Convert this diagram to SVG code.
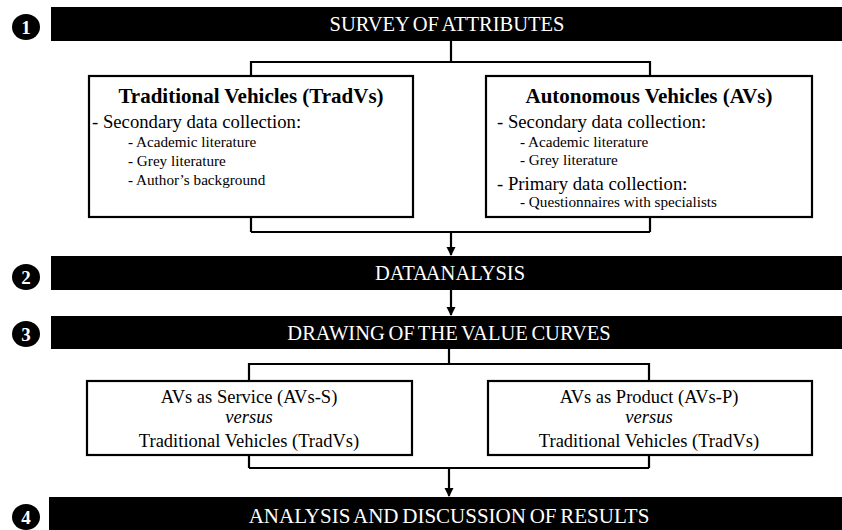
<svg xmlns="http://www.w3.org/2000/svg" width="842" height="530" viewBox="0 0 842 530">
<defs>
<marker id="arr" markerWidth="9" markerHeight="10" refX="8" refY="5" orient="auto" markerUnits="userSpaceOnUse">
<path d="M0,0.5 L9,5 L0,9.5 Z" fill="#000"/>
</marker>
<style>
.bar{fill:#000}
.bt{font-family:"Liberation Serif","Times New Roman",serif;font-size:20.5px;fill:#fff;text-anchor:middle;word-spacing:-1.5px}
.num{fill:#000}
.nt{font-family:"Liberation Serif","Times New Roman",serif;font-size:19px;font-weight:bold;fill:#fff;text-anchor:middle}
.box{fill:#fff;stroke:#000;stroke-width:2.2}
.ttl{font-family:"Liberation Serif","Times New Roman",serif;font-size:21px;font-weight:bold;fill:#000;text-anchor:middle}
.l1{font-family:"Liberation Serif","Times New Roman",serif;font-size:18.7px;fill:#000}
.l2{font-family:"Liberation Serif","Times New Roman",serif;font-size:15.2px;fill:#000}
.c{font-family:"Liberation Serif","Times New Roman",serif;font-size:18.5px;fill:#000;text-anchor:middle}
.con{fill:none;stroke:#000;stroke-width:2.2}
</style>
</defs>
<rect width="842" height="530" fill="#fff"/>

<g id="connectors">
<path class="con" d="M451,41 V62 M251,62 H650 M251,61 V76 M650,61 V76"/>
<path class="con" d="M251,217 V232 M650,217 V232 M251,232 H650"/>
<path class="con" d="M451,232 V255" marker-end="url(#arr)"/>
<path class="con" d="M451,290 V315" marker-end="url(#arr)"/>
<path class="con" d="M449,349 V364 M249,364 H649 M249,363 V381 M649,363 V381"/>
<path class="con" d="M249,455 V468 M649,455 V468 M249,468 H649"/>
<path class="con" d="M449,468 V496" marker-end="url(#arr)"/>
</g>

<g id="step1">
<ellipse class="num" cx="26" cy="27" rx="14" ry="13"/>
<text class="nt" x="26" y="34">1</text>
<rect class="bar" x="51" y="7" width="791" height="34"/>
<text class="bt" x="447" y="31">SURVEY OF ATTRIBUTES</text>
</g>

<g id="tradvs">
<rect class="box" x="89" y="76" width="324" height="141"/>
<text class="ttl" x="251" y="103">Traditional Vehicles (TradVs)</text>
<text class="l1" x="92" y="128">- Secondary data collection:</text>
<text class="l2" x="128" y="147">- Academic  literature</text>
<text class="l2" x="128" y="166">- Grey literature</text>
<text class="l2" x="128" y="185">- Author’s background</text>
</g>

<g id="avs">
<rect class="box" x="486" y="76" width="326" height="141"/>
<text class="ttl" x="649" y="103">Autonomous Vehicles (AVs)</text>
<text class="l1" x="497" y="128">- Secondary data collection:</text>
<text class="l2" x="520" y="147">- Academic  literature</text>
<text class="l2" x="520" y="165">- Grey literature</text>
<text class="l1" x="497" y="190">- Primary data collection:</text>
<text class="l2" x="520" y="207">- Questionnaires with specialists</text>
</g>

<g id="step2">
<ellipse class="num" cx="26" cy="277" rx="14" ry="13"/>
<text class="nt" x="26" y="284">2</text>
<rect class="bar" x="51" y="256" width="791" height="34"/>
<text class="bt" x="450" y="280" style="word-spacing:-5px">DATA ANALYSIS</text>
</g>

<g id="step3">
<ellipse class="num" cx="26" cy="334" rx="14" ry="13"/>
<text class="nt" x="26" y="341">3</text>
<rect class="bar" x="51" y="316" width="791" height="33"/>
<text class="bt" x="449" y="340">DRAWING OF THE VALUE CURVES</text>
</g>

<g id="avs-s">
<rect class="box" x="87" y="381" width="325" height="74"/>
<text class="c" x="249" y="403">AVs as Service (AVs-S)</text>
<text class="c" x="249" y="423" font-style="italic">versus</text>
<text class="c" x="249" y="447">Traditional Vehicles (TradVs)</text>
</g>

<g id="avs-p">
<rect class="box" x="488" y="381" width="324" height="74"/>
<text class="c" x="649" y="403">AVs as Product (AVs-P)</text>
<text class="c" x="649" y="423" font-style="italic">versus</text>
<text class="c" x="649" y="447">Traditional Vehicles (TradVs)</text>
</g>

<g id="step4">
<ellipse class="num" cx="26" cy="517" rx="14" ry="13"/>
<text class="nt" x="26" y="524">4</text>
<rect class="bar" x="49" y="497" width="793" height="33"/>
<text class="bt" x="449" y="523" style="font-size:21px">ANALYSIS AND DISCUSSION OF RESULTS</text>
</g>
</svg>
